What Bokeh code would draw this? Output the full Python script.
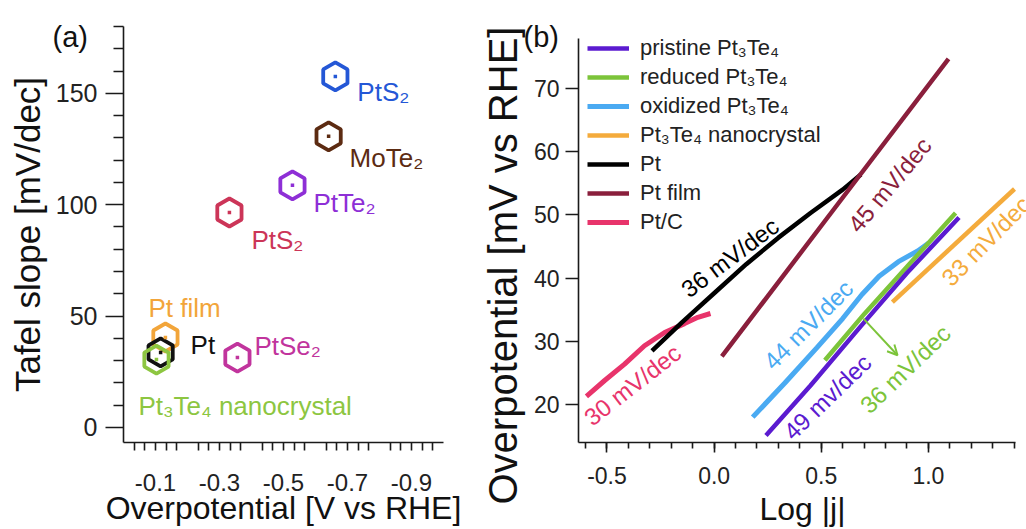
import numpy as np
from bokeh.plotting import figure
from bokeh.layouts import row
from bokeh.models import (Range1d, FixedTicker, PrintfTickFormatter, ColumnDataSource,
                          Label, Legend, LegendItem, Arrow, OpenHead, Title)
from bokeh.core.properties import value
from bokeh.embed import file_html
from bokeh.resources import INLINE

FONT = "Liberation Sans"

# ---------------- Panel (a) data ----------------
a_names = ["PtS₂", "MoTe₂", "PtTe₂", "PtS₂", "PtSe₂", "Pt film", "Pt", "Pt₃Te₄ nanocrystal"]
a_overpotential = [-0.662, -0.641, -0.528, -0.331, -0.356, -0.131, -0.116, -0.103]
a_tafel = [157.6, 130.7, 108.7, 96.5, 31.4, 40.4, 33.7, 30.5]
a_colors = ["#2457d6", "#5c2b12", "#8e2fd6", "#cc3558", "#c1349d", "#f2a53a", "#111111", "#8dc641"]
# label offsets in screen pixels (placement only)
a_label_dx = [22, 21, 21, 22, 17, -17, 30, -18]
a_label_dy = [16, 22, 18, 27, -12, -29, -7, 46]

a_xticks = [-0.1, -0.3, -0.5, -0.7, -0.9]
a_yticks = [0, 50, 100, 150]

# ---------------- Panel (b) data ----------------
pristine_x = [0.242, 0.45, 0.685, 0.90, 1.143]
pristine_y = [15.1, 23.0, 32.4, 40.8, 49.6]
reduced_x = [0.517, 0.70, 0.90, 1.127]
reduced_y = [27.0, 34.3, 41.8, 50.3]
oxidized_x = [0.18, 0.33, 0.48, 0.60, 0.69, 0.77, 0.86, 0.95, 1.0]
oxidized_y = [18.0, 23.4, 29.0, 33.6, 37.4, 40.3, 42.6, 44.3, 45.5]
nano_x = [0.832, 1.402]
nano_y = [36.2, 54.1]
pt_x = [-0.29, -0.15, 0.0, 0.15, 0.30, 0.45, 0.60, 0.685]
pt_y = [28.5, 33.0, 37.6, 42.2, 46.4, 50.3, 54.0, 56.4]
ptfilm_x = [0.036, 0.55, 1.094]
ptfilm_y = [27.6, 50.5, 74.7]
ptc_x = [-0.596, -0.511, -0.418, -0.325, -0.231, -0.138, -0.076, -0.017]
ptc_y = [21.3, 23.8, 26.4, 29.3, 31.4, 32.8, 33.8, 34.4]

b_xticks = [-0.5, 0.0, 0.5, 1.0]
b_yticks = [20, 30, 40, 50, 60, 70]

slope_texts = ["30 mV/dec", "36 mV/dec", "45 mV/dec", "44 mV/dec", "49 mv/dec", "36 mV/dec", "33 mV/dec"]
slope_x = [-0.592, -0.140, 0.647, 0.25, 0.343, 0.70, 1.081]
slope_y = [17.5, 37.8, 47.8, 26.2, 15.1, 19.3, 39.4]
slope_angle = [38, 37, 50, 45, 44, 44, 45.5]

C_PRIS = "#5b1bd0"
C_RED = "#7cc43a"
C_OX = "#4aaaf2"
C_NANO = "#f4ab3c"
C_PT = "#000000"
C_FILM = "#8a1f3c"
C_PTC = "#e8346b"
slope_colors = [C_PTC, C_PT, C_FILM, C_OX, C_PRIS, C_RED, C_NANO]

AX = "#1a1a1a"


def style_axis(ax, tick_size, title_size):
    ax.axis_line_color = AX
    ax.axis_line_width = 1.6
    ax.major_tick_line_color = AX
    ax.major_tick_line_width = 1.6
    ax.minor_tick_line_color = AX
    ax.minor_tick_line_width = 1.6
    ax.major_tick_in = 0
    ax.minor_tick_in = 0
    ax.major_label_text_font = FONT
    ax.major_label_text_font_size = tick_size
    ax.major_label_text_color = "#222222"
    ax.axis_label_text_font = FONT
    ax.axis_label_text_font_size = title_size
    ax.axis_label_text_font_style = "normal"
    ax.axis_label_text_color = "#111111"


def panel_title(text, offset, standoff):
    return Title(text=text, align="left", offset=offset, standoff=standoff, vertical_align="bottom",
                 text_font=FONT, text_font_size="29px", text_font_style="normal",
                 text_color="#111111")


# ---------------- Figure (a) ----------------
pa = figure(width=472, height=529, output_backend="svg", toolbar_location=None,
            x_range=Range1d(0, -1.0), y_range=Range1d(-6.74, 180),
            min_border_left=123, min_border_right=29, min_border_top=26, min_border_bottom=87,
            x_axis_label="Overpotential [V vs RHE]", y_axis_label="Tafel slope [mV/dec]")
pa.outline_line_color = None
pa.grid.visible = False

style_axis(pa.xaxis[0], "24px", "32px")
style_axis(pa.yaxis[0], "25px", "35px")
a_minor_x = [-(k / 30.0) for k in range(1, 30) if k % 6 not in (0, 3)]
pa.xaxis.ticker = FixedTicker(ticks=a_xticks, minor_ticks=a_minor_x)
pa.xaxis.formatter = PrintfTickFormatter(format="%.1f")
pa.xaxis.major_tick_out = 8
pa.xaxis.minor_tick_out = 8
pa.xaxis.major_label_standoff = 23
pa.xaxis.axis_label_standoff = -4
pa.yaxis.ticker = FixedTicker(ticks=a_yticks, minor_ticks=[v for v in range(0, 190, 10) if v % 50 != 0])
pa.yaxis.formatter = PrintfTickFormatter(format="%d")
pa.yaxis.major_tick_out = 18
pa.yaxis.minor_tick_out = 10
pa.yaxis.major_label_standoff = 8
pa.yaxis.axis_label_standoff = 6

src_a = ColumnDataSource(dict(x=a_overpotential, y=a_tafel, name=a_names, color=a_colors,
                              dx=a_label_dx, dy=a_label_dy))
pa.scatter(x="x", y="y", source=src_a, marker="hex", size=28, angle=np.pi / 2,
           fill_color=None, line_color="color", line_width=3.8)
pa.scatter(x="x", y="y", source=src_a, marker="square", size=3.5,
           fill_color="color", line_color=None)
pa.text(x="x", y="y", text="name", source=src_a, x_offset="dx", y_offset="dy",
        text_color="color", text_font=value(FONT), text_font_size="26px",
        text_baseline="alphabetic", text_align="left")

pa.add_layout(panel_title("(a)", -71, -53), "above")

# ---------------- Figure (b) ----------------
pb = figure(width=554, height=529, output_backend="svg", toolbar_location=None,
            x_range=Range1d(-0.633, 1.458), y_range=Range1d(13.99, 79.81),
            min_border_left=105, min_border_right=0, min_border_top=26, min_border_bottom=87,
            x_axis_label="Log |j|")
pb.outline_line_color = None
pb.grid.visible = False
style_axis(pb.xaxis[0], "23px", "32px")
style_axis(pb.yaxis[0], "23px", "38px")
pb.xaxis.bounds = (-0.633, 1.405)
pb.xaxis.ticker = FixedTicker(ticks=b_xticks,
                              minor_ticks=[round(-0.6 + 0.1 * i, 1) for i in range(21)])
pb.xaxis.formatter = PrintfTickFormatter(format="%.1f")
pb.xaxis.major_tick_out = 10
pb.xaxis.minor_tick_out = 6
pb.xaxis.major_label_standoff = 14
pb.xaxis.axis_label_standoff = 4
pb.yaxis.bounds = (13.99, 77.9)
pb.yaxis.ticker = FixedTicker(ticks=b_yticks, minor_ticks=[])
pb.yaxis.formatter = PrintfTickFormatter(format="%d")
pb.yaxis.major_tick_out = 13
pb.yaxis.major_label_standoff = 6

# y-axis title as a vertical Title in the left panel (it sits a little below centre)
pb.add_layout(Title(text="Overpotential [mV vs RHE]", align="left", offset=-62, standoff=12,
                    vertical_align="bottom", text_font=FONT, text_font_size="40px",
                    text_font_style="normal", text_color="#111111"), "left")
pb.add_layout(panel_title("(b)", -55, -52), "above")

LW = 4.5
r_ptc = pb.line(ptc_x, ptc_y, line_color=C_PTC, line_width=5)
r_pt = pb.line(pt_x, pt_y, line_color=C_PT, line_width=LW)
r_film = pb.line(ptfilm_x, ptfilm_y, line_color=C_FILM, line_width=LW)
r_ox = pb.line(oxidized_x, oxidized_y, line_color=C_OX, line_width=5)
r_red = pb.line(reduced_x, reduced_y, line_color=C_RED, line_width=LW)
r_pris = pb.line(pristine_x, pristine_y, line_color=C_PRIS, line_width=LW)
r_nano = pb.line(nano_x, nano_y, line_color=C_NANO, line_width=LW)

legend = Legend(items=[
    LegendItem(label="pristine Pt₃Te₄", renderers=[r_pris]),
    LegendItem(label="reduced Pt₃Te₄", renderers=[r_red]),
    LegendItem(label="oxidized Pt₃Te₄", renderers=[r_ox]),
    LegendItem(label="Pt₃Te₄ nanocrystal", renderers=[r_nano]),
    LegendItem(label="Pt", renderers=[r_pt]),
    LegendItem(label="Pt film", renderers=[r_film]),
    LegendItem(label="Pt/C", renderers=[r_ptc]),
], location=(9, 207), glyph_width=42, glyph_height=26, label_height=26, label_standoff=11,
    spacing=3, padding=0, margin=0, label_text_font=FONT, label_text_font_size="22px",
    label_text_color="#222222", border_line_alpha=0, background_fill_alpha=0)
pb.add_layout(legend)

for t, x, y, ang, col in zip(slope_texts, slope_x, slope_y, slope_angle, slope_colors):
    pb.add_layout(Label(x=x, y=y, text=t, angle=ang, angle_units="deg", text_font=FONT,
                        text_font_size="24px", text_color=col, text_baseline="alphabetic",
                        text_align="left"))

pb.add_layout(Arrow(end=OpenHead(size=10, line_color=C_RED, line_width=2),
                    x_start=0.697, y_start=33.6, x_end=0.856, y_end=27.8,
                    line_color=C_RED, line_width=2))

layout = row(pa, pb)
open("out.html", "w").write(file_html(layout, INLINE))
